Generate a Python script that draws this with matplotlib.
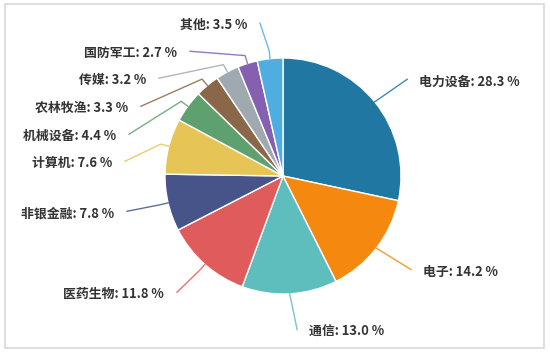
import numpy as np
import matplotlib
matplotlib.use("Agg")
import matplotlib.pyplot as plt
from matplotlib.patches import Rectangle

plt.rcParams['font.family'] = ['Noto Sans CJK SC', 'DejaVu Sans']

# data
sectors = ["电力设备", "电子", "通信", "医药生物", "非银金融", "计算机",
           "机械设备", "农林牧渔", "传媒", "国防军工", "其他"]
shares = [28.3, 14.2, 13.0, 11.8, 7.8, 7.6, 4.4, 3.3, 3.2, 2.7, 3.5]
colors = ["#1f77a2", "#f5890f", "#5ebdbd", "#e05b5c", "#46548a", "#e6c455",
          "#5fa06f", "#8b6749", "#a1a9b0", "#8660b0", "#4faee0"]

# label layout (pie radius = 1), side: 'L' text to the left, 'R' to the right
label_pos = [(1.153, 0.80), (1.186, -0.814), (0.22, -1.322), (-1.008, -1.00),
             (-1.432, -0.314), (-1.449, 0.11), (-1.415, 0.339), (-1.314, 0.576),
             (-1.161, 0.814), (-0.898, 1.042), (-0.305, 1.28)]
label_side = ['R', 'R', 'R', 'L', 'L', 'L', 'L', 'L', 'L', 'L', 'L']

fig = plt.figure(figsize=(5.5, 3.54), dpi=100)
ax = fig.add_axes([0, 0, 1, 1])

wedges, _ = ax.pie(shares, colors=colors, startangle=90, counterclock=False,
                   wedgeprops=dict(edgecolor="white", linewidth=1.0))

total = sum(shares)
cum = 0
for i, (name, v) in enumerate(zip(sectors, shares)):
    mid = 90 - (cum + v / 2) / total * 360
    cum += v
    a = np.deg2rad(mid)
    sx, sy = np.cos(a), np.sin(a)
    tx, ty = label_pos[i]
    if label_side[i] == 'L':
        ex, ey = tx + 0.11, ty + 0.015
        ha = 'right'
        kx, ky = 1.07 * sx, 1.07 * sy
    else:
        ex, ey = tx - 0.1, ty + 0.02
        ha = 'left'
        kx, ky = (sx + ex) / 2, (sy + ey) / 2
    ax.plot([sx, kx, ex], [sy, ky, ey], color=colors[i], lw=1.0, alpha=0.85,
            solid_joinstyle='round')
    ax.text(tx, ty, "{}: {} %".format(name, v), ha=ha, va='center',
            fontsize=9.3, fontweight='bold', color="#333333")

ax.set_aspect('auto')
ax.set_xlim(-283 / 118, (550 - 283) / 118)
ax.set_ylim(-(354 - 176) / 118, 176 / 118)
ax.axis('off')

# outer frame
fig.patches.append(Rectangle((5 / 550, 6 / 354), 539 / 550, 344 / 354,
                             transform=fig.transFigure, fill=False,
                             edgecolor="#d9d9d9", lw=1.2))

fig.savefig("out.png", dpi=100)
